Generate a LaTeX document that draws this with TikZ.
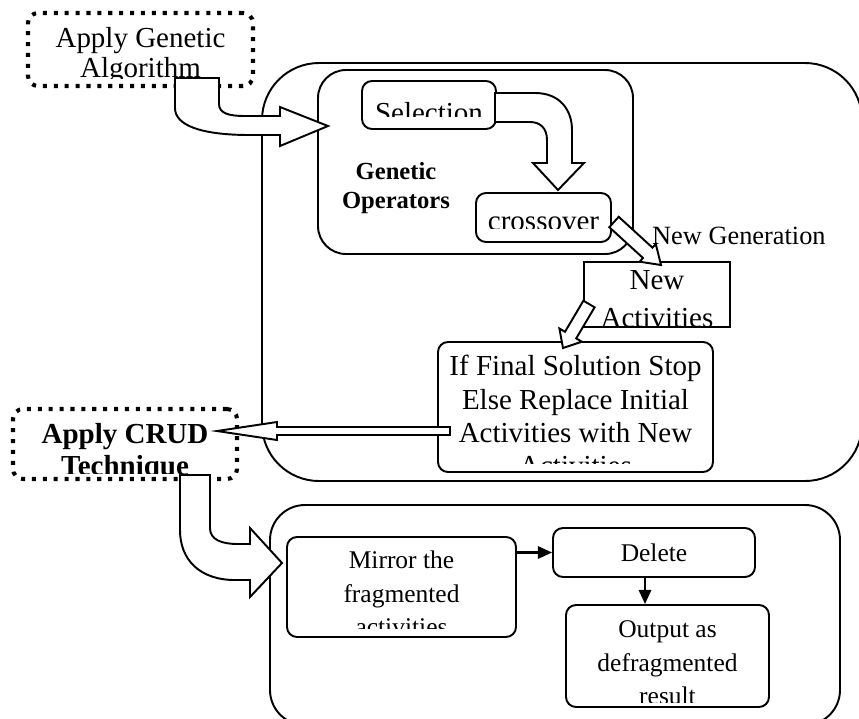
\documentclass[tikz,border=0pt]{standalone}
\usepackage{fontspec}
\setmainfont{Liberation Serif}
\usetikzlibrary{arrows.meta,calc}

\newcommand{\bigtxt}{\fontsize{16.5}{19}\selectfont}
\newcommand{\smalltxt}{\fontsize{14.5}{19}\selectfont}

\tikzset{
	sz/.style 2 args={minimum width=#1*0.02cm, minimum height=#2*0.02cm, inner sep=0pt},
	box/.style={draw, line width=1.1pt, rounded corners=0.2cm},
	dotbox/.style={draw, line width=2.3pt, dash pattern=on 2.3pt off 3.9pt, rounded corners=0.2cm},
	blockarrow/.style={draw, fill=white, line width=1.1pt, line join=miter},
	thinarrow/.style={line width=1.2pt, -{Triangle[length=8pt,width=7pt]}},
	boxtext/.style n args={4}{path picture={
		\clip ([yshift=#2*0.02cm]path picture bounding box.south west) rectangle (path picture bounding box.north east);
		\node[anchor=north, align=center, inner sep=0pt, draw=none, fill=none, minimum width=0pt, minimum height=0pt, font=#3]
			at ([yshift=-#1*0.02cm]path picture bounding box.north) {\strut #4};}},
}

\begin{document}
\begin{tikzpicture}[x=0.02cm, y=-0.02cm, font=\bigtxt]
	\useasboundingbox (0,0) rectangle (859,718);
	% outer boxes
	\draw[line width=1.1pt, rounded corners=1.14cm] (262,63) rectangle (862,481);
	\draw[line width=1.1pt, rounded corners=0.56cm] (318,70) rectangle (633,254);
	\draw[line width=1.1pt, rounded corners=0.7cm] (270,505) rectangle (840,725);

	% dotted start boxes
	\node (applyga) [dotbox, sz={225}{73}, boxtext={10.5}{8}{\fontsize{16.5}{17.5}\selectfont}{Apply Genetic\\Algorithm}] at (140.5,49.5) {};
	\node (applycrud) [dotbox, sz={224}{70}, boxtext={10.5}{6}{\fontsize{16.5}{18}\selectfont\bfseries}{Apply CRUD\\Technique}] at (125,444) {};

	% genetic operators
	\node (selection) [box, sz={134}{48}, boxtext={17.5}{13}{\bigtxt}{Selection}] at (429,105) {};
	\node (crossover) [box, sz={135}{49}, boxtext={13.5}{14}{\bigtxt}{crossover}] at (543.5,217.5) {};
	\node (genops) [align=center, font=\fontsize{14}{16.5}\selectfont\bfseries] at (396,188) {Genetic\\Operators};
	\node (newgen) [anchor=base west, font=\fontsize{15}{18}\selectfont] at (646,244) {New Generation};
	\node (newact) [draw, line width=1.1pt, sz={146}{65}, boxtext={0.5}{1}{\fontsize{16.5}{21.5}\selectfont}{New\\Activities}] at (657,294.5) {};
	\node (final) [box, sz={275}{130}, boxtext={9.5}{9}{\bigtxt}{If Final Solution Stop\\Else Replace Initial\\Activities with New\\Activities}] at (575.5,407) {};

	% CRUD part
	\node (mirror) [box, sz={229}{100}, boxtext={7.5}{9}{\smalltxt}{Mirror the\\fragmented\\activities}] at (401.5,587) {};
	\node (delete) [box, sz={202}{49}, font=\smalltxt] at (654,552.5) {Delete};
	\node (output) [box, sz={203}{102}, boxtext={8.5}{5}{\smalltxt}{Output as\\defragmented\\result}] at (667.5,656) {};

	% block arrows
	\draw[blockarrow] (175,78) -- (219,78) -- (219,104) .. controls (219,113) and (228,116) .. (245,116) -- (280,116)
		-- (280,107) -- (328,126) -- (280,146) -- (280,135) -- (250,135) .. controls (200,135) and (175,125) .. (175,108) -- cycle;
	\draw[blockarrow] (495,93) -- (535,93) .. controls (560,93) and (572,110) .. (572,130) -- (572,163)
		-- (584,163) -- (558,190) -- (533,163) -- (547,163) -- (547,140) .. controls (547,128) and (540,122) .. (530,122) -- (495,122) -- cycle;
	\draw[blockarrow] (609.3,227.2) -- (643.0,258.0) -- (639.6,261.7) -- (661,265) -- (655.8,244.0) -- (652.4,247.6) -- (618.7,216.8) -- cycle;
	\draw[blockarrow] (594.6,307.3) -- (576.2,338.4) -- (581.8,341.7) -- (563,348) -- (559.4,328.5) -- (565.0,331.8) -- (583.4,300.7) -- cycle;
	\draw[blockarrow] (450,427) -- (277,427) -- (277,422) -- (217,431) -- (277,440) -- (277,435) -- (450,435) -- cycle;
	\draw[blockarrow] (180,475) -- (210,475) -- (210,528) .. controls (210,540) and (222,544) .. (238,544) -- (250,544)
		-- (250,528) -- (282,563) -- (250,597) -- (250,580) -- (235,580) .. controls (200,580) and (180,560) .. (180,530) -- cycle;

	% thin arrows
	\coordinate (down) at (645,0);
	\draw[thinarrow] (mirror.east |- delete.west) -- (delete.west);
	\draw[thinarrow] (delete.south -| down) -- (output.north -| down);
\end{tikzpicture}
\end{document}
